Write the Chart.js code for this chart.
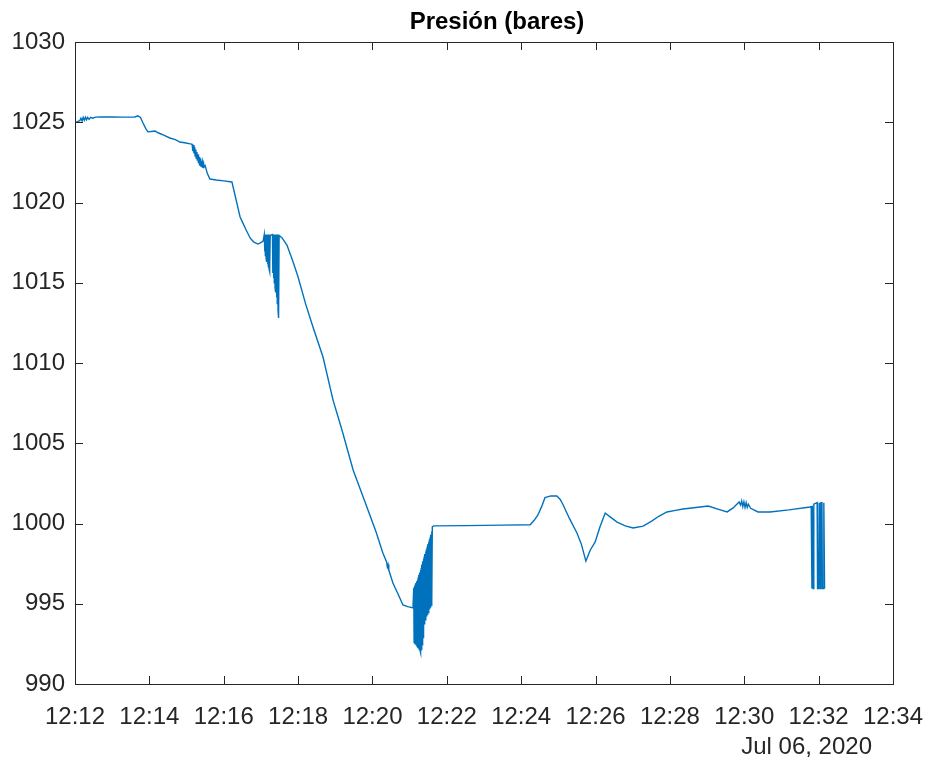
<!DOCTYPE html>
<html>
<head>
<meta charset="utf-8">
<title>Presión (bares)</title>
<script src="https://cdn.jsdelivr.net/npm/chart.js@4/dist/chart.umd.min.js"></script>
<style>
  html, body { margin: 0; padding: 0; background: #ffffff; }
  #wrap { width: 929px; height: 762px; position: relative; }
</style>
</head>
<body>
<div id="wrap"><canvas id="chart" width="929" height="762"></canvas></div>
<script>
// Sensor log of 6 July 2020: minute of the 12 o'clock hour and pressure reading
const minutes = [
  12.00, 12.05, 12.13, 12.16, 12.19, 12.22, 12.25, 12.28, 12.31, 12.34, 12.38, 12.42, 12.48, 12.55, 12.70,
  13.00, 13.30, 13.61, 13.69, 13.76, 13.83, 13.90, 13.96, 14.05, 14.15, 14.25, 14.40, 14.55, 14.70, 14.82,
  14.95, 15.10,
  15.15, 15.17, 15.18, 15.20, 15.22, 15.23, 15.25, 15.26, 15.28, 15.29, 15.31, 15.32, 15.34, 15.35,
  15.37, 15.38, 15.40, 15.41, 15.43, 15.44, 15.46, 15.47, 15.50,
  15.56, 15.63, 15.80, 16.00, 16.22, 16.30, 16.38, 16.44, 16.52, 16.60, 16.71, 16.80, 16.92, 17.00, 17.06,
  17.09, 17.10, 17.11, 17.12, 17.13, 17.14, 17.15, 17.16, 17.17, 17.18, 17.19, 17.20, 17.21, 17.22,
  17.23, 17.24, 17.25,
  17.31, 17.32, 17.33, 17.34, 17.35, 17.36, 17.37, 17.38, 17.39, 17.40, 17.41, 17.42, 17.43, 17.44,
  17.45, 17.46, 17.47, 17.48, 17.49,
  17.57, 17.70, 17.85, 18.00, 18.20, 18.40, 18.67, 18.94, 19.18, 19.48, 19.85, 20.10, 20.28, 20.38, 20.40,
  20.42, 20.44, 20.55, 20.70, 20.82, 20.95, 21.09,
  21.11, 21.12, 21.13, 21.14, 21.15, 21.16, 21.17, 21.18, 21.19, 21.20, 21.21, 21.22, 21.23, 21.24,
  21.25, 21.26, 21.27, 21.28, 21.29, 21.30, 21.31, 21.32, 21.33, 21.34, 21.35, 21.36, 21.37, 21.38,
  21.39, 21.40, 21.41, 21.42, 21.43, 21.44, 21.45, 21.46, 21.47, 21.48, 21.49, 21.50, 21.51, 21.52,
  21.53, 21.54, 21.55, 21.56, 21.57, 21.58, 21.59, 21.60, 21.61,
  21.65, 22.50, 23.50, 24.24, 24.35, 24.45, 24.55, 24.64, 24.80, 24.96, 25.05, 25.13, 25.30, 25.50,
  25.62, 25.74, 25.86, 25.99, 26.12, 26.26, 26.40, 26.58, 26.80, 27.01, 27.28, 27.52, 27.70, 27.92,
  28.15, 28.35, 28.70, 29.03, 29.29, 29.54, 29.70, 29.86, 29.90, 29.93, 29.96, 29.99, 30.02, 30.05,
  30.08, 30.11, 30.17, 30.37, 30.69, 31.20, 31.77,
  31.80, 31.82, 31.83, 31.85, 31.87, 31.96, 31.97, 32.00, 32.02, 32.04, 32.06, 32.09, 32.10, 32.13,
  32.14, 32.16
];

const pressure = [
  1025.00, 1025.02, 1025.10, 1025.25, 1025.08, 1025.30, 1025.12, 1025.32, 1025.15, 1025.30, 1025.18, 1025.30, 1025.25, 1025.32, 1025.33,
  1025.33, 1025.32, 1025.33, 1025.40, 1025.30, 1024.95, 1024.62, 1024.40, 1024.42, 1024.45, 1024.33, 1024.18, 1024.02, 1023.92, 1023.77,
  1023.72, 1023.65,
  1023.62, 1023.20, 1023.58, 1023.05, 1023.45, 1022.90, 1023.30, 1022.75, 1023.15, 1022.60, 1023.00, 1022.45, 1022.85, 1022.30,
  1022.75, 1022.25, 1022.60, 1022.20, 1022.50, 1022.15, 1022.40, 1022.20, 1022.30,
  1021.80, 1021.46, 1021.40, 1021.35, 1021.28, 1020.50, 1019.70, 1019.10, 1018.70, 1018.30, 1017.79, 1017.55, 1017.41, 1017.50, 1017.60,
  1018.00, 1016.95, 1018.00, 1016.70, 1018.00, 1016.50, 1018.00, 1016.30, 1018.00, 1016.15, 1018.00, 1016.00, 1018.00, 1015.85,
  1018.00, 1015.70, 1017.95,
  1018.00, 1015.60, 1018.00, 1015.30, 1018.00, 1015.00, 1018.00, 1014.70, 1018.00, 1014.40, 1018.00, 1014.10, 1018.00, 1013.70,
  1018.00, 1013.30, 1017.95, 1012.80, 1017.95,
  1017.79, 1017.35, 1016.40, 1015.36, 1013.70, 1012.24, 1010.37, 1007.69, 1005.83, 1003.33, 1001.03, 999.45, 998.16, 997.60, 997.30,
  997.45, 997.10, 996.29, 995.55, 994.92, 994.82, 994.74,
  996.00, 992.60, 996.10, 992.55, 996.20, 992.50, 996.30, 992.45, 996.40, 992.35, 996.50, 992.30, 996.65, 992.25,
  996.80, 992.15, 996.95, 992.10, 997.10, 991.95, 997.25, 992.10, 997.45, 992.45, 997.65, 992.90, 997.80, 993.30,
  997.95, 993.70, 998.10, 994.00, 998.25, 994.10, 998.40, 994.20, 998.55, 994.30, 998.70, 994.45, 998.85, 994.55,
  999.00, 994.65, 999.15, 994.75, 999.30, 994.90, 999.50, 995.05, 999.80,
  999.85, 999.87, 999.90, 999.92, 1000.20, 1000.53, 1001.05, 1001.61, 1001.72, 1001.71, 1001.50, 1001.15, 1000.30, 999.41,
  998.70, 997.66, 998.35, 998.85, 999.80, 1000.65, 1000.40, 1000.09, 999.85, 999.72, 999.84, 1000.16, 1000.45, 1000.72,
  1000.82, 1000.90, 1001.00, 1001.09, 1000.90, 1000.72, 1000.97, 1001.34, 1001.15, 1001.40, 1001.05, 1001.35, 1001.00, 1001.30,
  1001.00, 1001.20, 1000.95, 1000.72, 1000.72, 1000.85, 1001.03,
  1001.05, 995.95, 1001.10, 995.95, 1001.20, 1001.30, 995.95, 995.95, 1001.30, 995.95, 1001.30, 1001.30, 995.95, 995.95,
  1001.30, 995.95
];

const xTickValues = [12, 14, 16, 18, 20, 22, 24, 26, 28, 30, 32, 34];
const xTickLabels = ['12:12', '12:14', '12:16', '12:18', '12:20', '12:22', '12:24', '12:26', '12:28', '12:30', '12:32', '12:34'];
const yTickValues = [990, 995, 1000, 1005, 1010, 1015, 1020, 1025, 1030];
const yTickLabels = ['990', '995', '1000', '1005', '1010', '1015', '1020', '1025', '1030'];
const titleText = 'Presión (bares)';
const dateText = 'Jul 06, 2020';

const FONT = '"Liberation Sans", Arial, Helvetica, sans-serif';
const AXIS_COLOR = '#262626';

// Box outline, inward tick marks, title and date line
const frame = {
  id: 'frame',
  afterDraw(chart) {
    const { ctx, chartArea: a, scales } = chart;
    const len = 8;
    ctx.save();
    ctx.strokeStyle = AXIS_COLOR;
    ctx.lineWidth = 1;
    ctx.beginPath();
    xTickValues.forEach(v => {
      const px = Math.round(scales.x.getPixelForValue(v)) + 0.5;
      ctx.moveTo(px, a.bottom); ctx.lineTo(px, a.bottom - len);
      ctx.moveTo(px, a.top); ctx.lineTo(px, a.top + len);
    });
    yTickValues.forEach(v => {
      const py = Math.round(scales.y.getPixelForValue(v)) + 0.5;
      ctx.moveTo(a.left, py); ctx.lineTo(a.left + len, py);
      ctx.moveTo(a.right, py); ctx.lineTo(a.right - len, py);
    });
    ctx.stroke();
    ctx.strokeRect(Math.round(a.left) + 0.5, Math.round(a.top) + 0.5,
                   Math.round(a.right - a.left), Math.round(a.bottom - a.top));

    ctx.fillStyle = '#000000';
    ctx.font = 'bold 24px ' + FONT;
    ctx.textAlign = 'center';
    ctx.textBaseline = 'middle';
    ctx.fillText(titleText, (a.left + a.right) / 2 + 13, 22);

    ctx.fillStyle = AXIS_COLOR;
    ctx.font = '24px ' + FONT;
    ctx.textAlign = 'right';
    ctx.textBaseline = 'alphabetic';
    ctx.fillText(dateText, a.right - 21, 754);
    ctx.restore();
  }
};

new Chart(document.getElementById('chart'), {
  type: 'line',
  data: {
    datasets: [{
      data: minutes.map((m, i) => ({ x: m, y: pressure[i] })),
      borderColor: '#0072BD',
      borderWidth: 1.4,
      pointRadius: 0,
      tension: 0,
      fill: false
    }]
  },
  options: {
    responsive: false,
    animation: false,
    parsing: false,
    normalized: true,
    layout: { padding: { top: 42, right: 36, left: 0, bottom: 0 } },
    plugins: {
      legend: { display: false },
      title: { display: false },
      tooltip: { enabled: false }
    },
    scales: {
      x: {
        type: 'linear',
        min: 12,
        max: 34,
        grid: { display: false, drawTicks: false },
        border: { display: false },
        afterBuildTicks: s => { s.ticks = xTickValues.map(v => ({ value: v })); },
        afterFit: s => { s.height = 78; s.paddingLeft = 0; s.paddingRight = 0; },
        ticks: {
          autoSkip: false,
          maxRotation: 0,
          padding: 19,
          color: AXIS_COLOR,
          font: { family: FONT, size: 24 },
          callback: (v, i) => xTickLabels[i]
        }
      },
      y: {
        type: 'linear',
        min: 990,
        max: 1030,
        grid: { display: false, drawTicks: false },
        border: { display: false },
        afterBuildTicks: s => { s.ticks = yTickValues.map(v => ({ value: v })); },
        afterFit: s => { s.width = 75; s.paddingTop = 0; s.paddingBottom = 0; },
        ticks: {
          autoSkip: false,
          padding: 10,
          color: AXIS_COLOR,
          font: { family: FONT, size: 24 },
          callback: (v, i) => yTickLabels[i]
        }
      }
    }
  },
  plugins: [frame]
});
</script>
</body>
</html>
